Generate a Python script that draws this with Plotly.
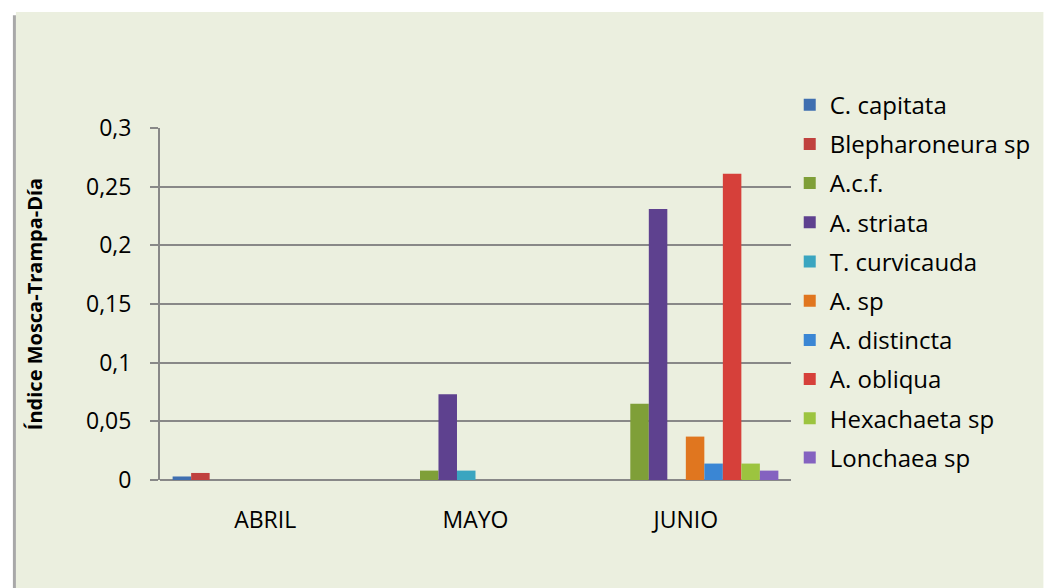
import plotly.graph_objects as go

months = ["ABRIL", "MAYO", "JUNIO"]
species = ["C. capitata", "Blepharoneura sp", "A.c.f.", "A. striata", "T. curvicauda",
           "A. sp", "A. distincta", "A. obliqua", "Hexachaeta sp", "Lonchaea sp"]
c_capitata = [0.003, 0, 0]
blepharoneura = [0.006, 0, 0]
acf = [0, 0.008, 0.065]
a_striata = [0, 0.073, 0.231]
t_curvicauda = [0, 0.008, 0]
a_sp = [0, 0, 0.037]
a_distincta = [0, 0, 0.014]
a_obliqua = [0, 0, 0.261]
hexachaeta = [0, 0, 0.014]
lonchaea = [0, 0, 0.008]
values = [c_capitata, blepharoneura, acf, a_striata, t_curvicauda,
          a_sp, a_distincta, a_obliqua, hexachaeta, lonchaea]
colors = ["#3f6fb0", "#c0413e", "#7f9f38", "#5e418f", "#3aa5c0",
          "#e0761f", "#3a86d4", "#d6403a", "#9cc43f", "#8462c0"]

FONT = "Open Sans"
fig = go.Figure()
for name, v, c in zip(species, values, colors):
    fig.add_trace(go.Bar(x=months, y=v, name=name, legendgroup=name,
                         marker=dict(color=c, line=dict(width=0))))

# panel background and shadow
fig.add_shape(type="rect", xref="paper", yref="paper", x0=-0.2331, x1=-0.2283,
              y0=-0.31, y1=1.32, fillcolor="#a8a8a8", line_width=0, layer="below")
fig.add_shape(type="rect", xref="paper", yref="paper", x0=-0.2283, x1=1.40,
              y0=-0.31, y1=1.3295, fillcolor="#ebefdf", line_width=0, layer="below")

fig.update_layout(
    width=1048, height=588,
    margin=dict(l=160, r=253, t=128, b=108),
    paper_bgcolor="white", plot_bgcolor="white",
    barmode="group", bargap=0.12, bargroupgap=0,
    separators=", ",
    font=dict(family=FONT, size=20, color="black"),
    legend=dict(x=0.998, xanchor="left", y=1.129, yanchor="top",
                bgcolor="rgba(0,0,0,0)", font=dict(family=FONT, size=24),
                tracegroupgap=5, itemwidth=30, maxheight=520),
    xaxis=dict(showline=False, ticks="", tickfont=dict(family=FONT, size=23),
               ticklabelstandoff=24),
    yaxis=dict(range=[0, 0.3], dtick=0.05, showgrid=True, gridcolor="#888888", gridwidth=2,
               showline=True, linecolor="#888888", linewidth=2,
               ticks="outside", ticklen=8, tickcolor="#888888", tickwidth=2,
               tickfont=dict(family=FONT, size=23), ticklabelstandoff=14,
               zeroline=True, zerolinecolor="#888888", zerolinewidth=2,
               automargin=False,
               title=dict(text="<b>Índice Mosca-Trampa-Día</b>",
                          font=dict(family=FONT, size=20), standoff=38)),
)
fig.write_html("out.html", config={"displayModeBar": False},
               post_script="document.body.style.margin='0';document.body.style.overflow='hidden';")
